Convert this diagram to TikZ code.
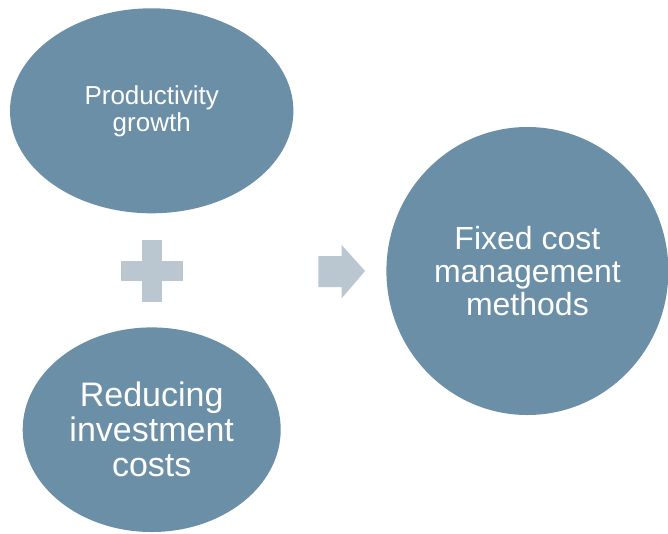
\documentclass[tikz,border=0pt]{standalone}
\usepackage{fontspec}
\setmainfont{Liberation Sans}
\usetikzlibrary{shapes.geometric}
\definecolor{bubble}{HTML}{6A8FA6}
\definecolor{signgray}{HTML}{BAC7D0}
\begin{document}
\begin{tikzpicture}[x=1pt,y=-1pt,
  bubble/.style={ellipse, fill=bubble, draw=none, inner sep=0pt,
    text=white, align=center},
  sign/.style={fill=signgray, draw=none}]
\useasboundingbox (0,0) rectangle (668,533);
\clip (0,0) rectangle (668,533);
% input bubbles
\node[bubble, minimum width=283.4pt, minimum height=205pt,
  font=\fontsize{26}{27}\selectfont] (prod) at (151.7,110.8)
  {Productivity\\growth};
\node[bubble, minimum width=258pt, minimum height=204.6pt,
  font=\fontsize{34}{35}\selectfont] (invest) at (151.7,429.7)
  {Reducing\\investment\\costs};
% result bubble
\node[bubble, minimum width=282pt, minimum height=288pt,
  font=\fontsize{32}{32.7}\selectfont] (fixed) at (527.4,271)
  {Fixed cost\\management\\methods};
% plus sign
\coordinate (plus) at (151.7,271);
\fill[sign] ([xshift=-10pt,yshift=31pt]plus) rectangle ([xshift=10pt,yshift=-31pt]plus);
\fill[sign] ([xshift=-31pt,yshift=10pt]plus) rectangle ([xshift=31pt,yshift=-10pt]plus);
% arrow sign
\coordinate (arrow) at (318.3,271);
\fill[sign] (arrow) ++(0,-15) -- ++(23.4,0) -- ++(0,-11) -- ++(23.3,26)
  -- ++(-23.3,27.3) -- ++(0,-11.3) -- ++(-23.4,0) -- cycle;
\end{tikzpicture}
\end{document}
